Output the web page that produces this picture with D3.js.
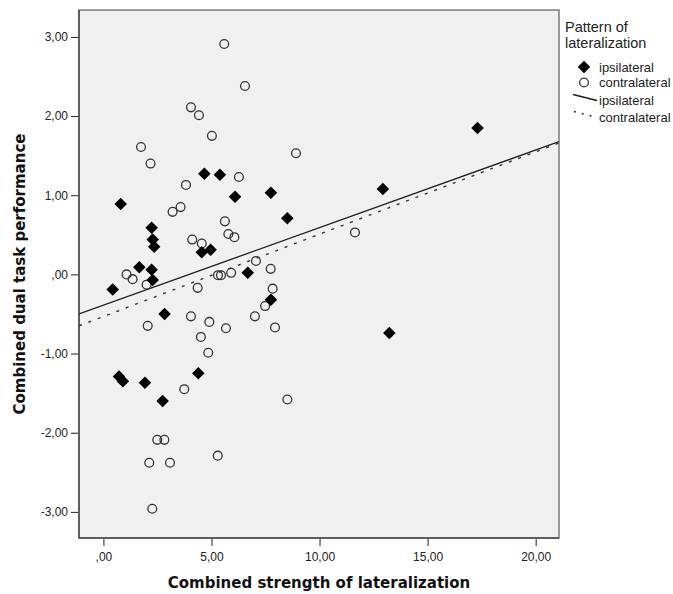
<!DOCTYPE html>
<html>
<head>
<meta charset="utf-8">
<script src="https://cdn.jsdelivr.net/npm/d3@7"></script>
<style>
  body { margin: 0; background: #fff; }
</style>
</head>
<body>
<div id="viz"></div>
<script>
var width = 673,
  height = 594;

// ipsilateral points [strength, performance]
var ipsiX = [0.43, 0.80, 2.23, 2.28, 2.35, 1.66, 2.23, 2.28, 2.83, 4.55, 4.96, 4.67, 5.39, 6.09, 7.75, 8.51, 6.68, 7.75, 12.93, 13.23, 17.31, 0.72, 0.90, 1.92, 2.74, 4.39];
var ipsiY = [-0.19, 0.89, 0.59, 0.44, 0.35, 0.09, 0.06, -0.07, -0.50, 0.28, 0.31, 1.27, 1.26, 0.98, 1.03, 0.71, 0.02, -0.32, 1.08, -0.74, 1.85, -1.29, -1.35, -1.37, -1.60, -1.25];

// contralateral points
var contraX = [5.59, 4.05, 4.42, 5.02, 1.74, 2.18, 3.82, 6.55, 8.91, 6.27, 3.20, 3.57, 5.62, 5.78, 6.06, 4.11, 4.55, 1.07, 1.35, 2.00, 4.36, 5.30, 5.44, 5.91, 11.64, 7.06, 7.74, 7.83, 7.48, 7.01, 7.94, 2.05, 4.05, 4.90, 4.51, 4.85, 5.67, 8.51, 5.29, 3.74, 2.49, 2.82, 2.12, 3.08, 2.26];
var contraY = [2.91, 2.11, 2.01, 1.75, 1.61, 1.40, 1.13, 2.38, 1.53, 1.23, 0.79, 0.85, 0.67, 0.51, 0.47, 0.44, 0.39, 0.00, -0.06, -0.13, -0.17, -0.01, -0.01, 0.02, 0.53, 0.17, 0.07, -0.18, -0.40, -0.53, -0.67, -0.65, -0.53, -0.60, -0.79, -0.99, -0.68, -1.58, -2.29, -1.45, -2.09, -2.09, -2.38, -2.38, -2.96];

// fit lines per group
var fitGroups = ['ipsilateral', 'contralateral'];
var fitIntercept = [-0.389, -0.532];
var fitSlope = [0.098, 0.104];

var xTicks = [0, 5, 10, 15, 20];
var yTicks = [-3, -2, -1, 0, 1, 2, 3];
var legendLabels = ['ipsilateral', 'contralateral', 'ipsilateral', 'contralateral'];

var plot = { left: 79, top: 10, right: 559, bottom: 538 };

var x = d3.scaleLinear().domain([-1.13, 21.08]).range([plot.left, plot.right]);
var y = d3.scaleLinear().domain([-3.33, 3.34]).range([plot.bottom, plot.top]);

// SPSS style: comma decimal, no leading zero, plain hyphen
function fmt(v) {
  var s = d3.format('.2f')(v).replace('\u2212', '-').replace('.', ',');
  if (s.indexOf('0,') === 0) s = s.slice(1);
  return s;
}

var svg = d3.select('#viz').append('svg')
  .attr('width', width)
  .attr('height', height)
  .style('font-family', '"Liberation Sans", Arial, sans-serif');

svg.append('rect')
  .attr('x', plot.left)
  .attr('y', plot.top)
  .attr('width', plot.right - plot.left)
  .attr('height', plot.bottom - plot.top)
  .attr('fill', '#f0f0f0')
  .attr('stroke', '#7a7a7a')
  .attr('stroke-width', 1.5);

// left and bottom frame lines are darker
svg.append('line')
  .attr('x1', plot.left).attr('x2', plot.left)
  .attr('y1', plot.top).attr('y2', plot.bottom)
  .attr('stroke', '#222');
svg.append('line')
  .attr('x1', plot.left).attr('x2', plot.right)
  .attr('y1', plot.bottom).attr('y2', plot.bottom)
  .attr('stroke', '#222');

var clip = svg.append('defs').append('clipPath').attr('id', 'clip');
clip.append('rect')
  .attr('x', plot.left).attr('y', plot.top)
  .attr('width', plot.right - plot.left)
  .attr('height', plot.bottom - plot.top);

// axes
var yAxis = svg.append('g')
  .attr('transform', 'translate(' + (plot.left - 1) + ',0)')
  .call(d3.axisLeft(y).tickValues(yTicks).tickSize(7).tickPadding(3).tickFormat(fmt));
var xAxis = svg.append('g')
  .attr('transform', 'translate(0,' + (plot.bottom + 1) + ')')
  .call(d3.axisBottom(x).tickValues(xTicks).tickSize(7).tickPadding(6).tickFormat(fmt));

[xAxis, yAxis].forEach(function (a) {
  a.select('.domain').remove();
  a.selectAll('line').attr('stroke', '#222');
  a.selectAll('text')
    .attr('fill', '#222')
    .style('font-size', '12px')
    .style('font-family', '"Liberation Sans", Arial, sans-serif');
});

// fit lines
var lines = svg.append('g').attr('clip-path', 'url(#clip)');
fitGroups.forEach(function (g, i) {
  var x0 = x.domain()[0], x1 = x.domain()[1];
  lines.append('line')
    .attr('x1', x(x0))
    .attr('y1', y(fitIntercept[i] + fitSlope[i] * x0))
    .attr('x2', x(x1))
    .attr('y2', y(fitIntercept[i] + fitSlope[i] * x1))
    .attr('stroke', i === 0 ? '#1a1a1a' : '#333')
    .attr('stroke-width', i === 0 ? 1.3 : 1.4)
    .attr('stroke-dasharray', i === 0 ? null : '3,7');
});

var diamond = d3.symbol().type(d3.symbolDiamond2).size(100);

var contra = contraX.map(function (v, i) { return { x: v, y: contraY[i] }; });
var ipsi = ipsiX.map(function (v, i) { return { x: v, y: ipsiY[i] }; });

svg.append('g').selectAll('circle')
  .data(contra)
  .enter().append('circle')
  .attr('cx', function (d) { return x(d.x); })
  .attr('cy', function (d) { return y(d.y); })
  .attr('r', 4.4)
  .attr('fill', 'none')
  .attr('stroke', '#333')
  .attr('stroke-width', 1.3);

svg.append('g').selectAll('path')
  .data(ipsi)
  .enter().append('path')
  .attr('d', diamond)
  .attr('transform', function (d) {
    return 'translate(' + x(d.x) + ',' + y(d.y) + ')';
  })
  .attr('fill', '#000');

// axis titles
svg.append('text')
  .attr('x', (plot.left + plot.right) / 2)
  .attr('y', 588)
  .attr('text-anchor', 'middle')
  .style('font-family', '"DejaVu Sans", Verdana, sans-serif')
  .style('font-weight', 'bold')
  .style('font-size', '15px')
  .attr('fill', '#111')
  .text('Combined strength of lateralization');

svg.append('text')
  .attr('transform', 'translate(25,' + (plot.top + plot.bottom) / 2 + ') rotate(-90)')
  .attr('text-anchor', 'middle')
  .style('font-family', '"DejaVu Sans", Verdana, sans-serif')
  .style('font-weight', 'bold')
  .style('font-size', '15px')
  .attr('fill', '#111')
  .text('Combined dual task performance');

// legend
var legend = svg.append('g').attr('fill', '#222');
legend.append('text').attr('x', 565).attr('y', 32).style('font-size', '14.5px').text('Pattern of');
legend.append('text').attr('x', 565).attr('y', 48).style('font-size', '14.5px').text('lateralization');

legend.append('path')
  .attr('d', diamond)
  .attr('transform', 'translate(584,67)')
  .attr('fill', '#000');
legend.append('circle')
  .attr('cx', 584).attr('cy', 82.5).attr('r', 4.4)
  .attr('fill', 'none').attr('stroke', '#333').attr('stroke-width', 1.3);
legend.append('line')
  .attr('x1', 573).attr('y1', 94.5).attr('x2', 597).attr('y2', 100.5)
  .attr('stroke', '#1a1a1a').attr('stroke-width', 1.3);
legend.append('line')
  .attr('x1', 574).attr('y1', 111.5).attr('x2', 597).attr('y2', 117.5)
  .attr('stroke', '#333').attr('stroke-width', 1.4).attr('stroke-dasharray', '2,6');

var legendY = [67, 82.5, 100.5, 117];
var legendX = [599, 599, 599, 599];
legendLabels.forEach(function (t, i) {
  legend.append('text')
    .attr('x', legendX[i])
    .attr('y', legendY[i])
    .attr('dy', '0.35em')
    .style('font-size', '13px')
    .text(t);
});
</script>
</body>
</html>
